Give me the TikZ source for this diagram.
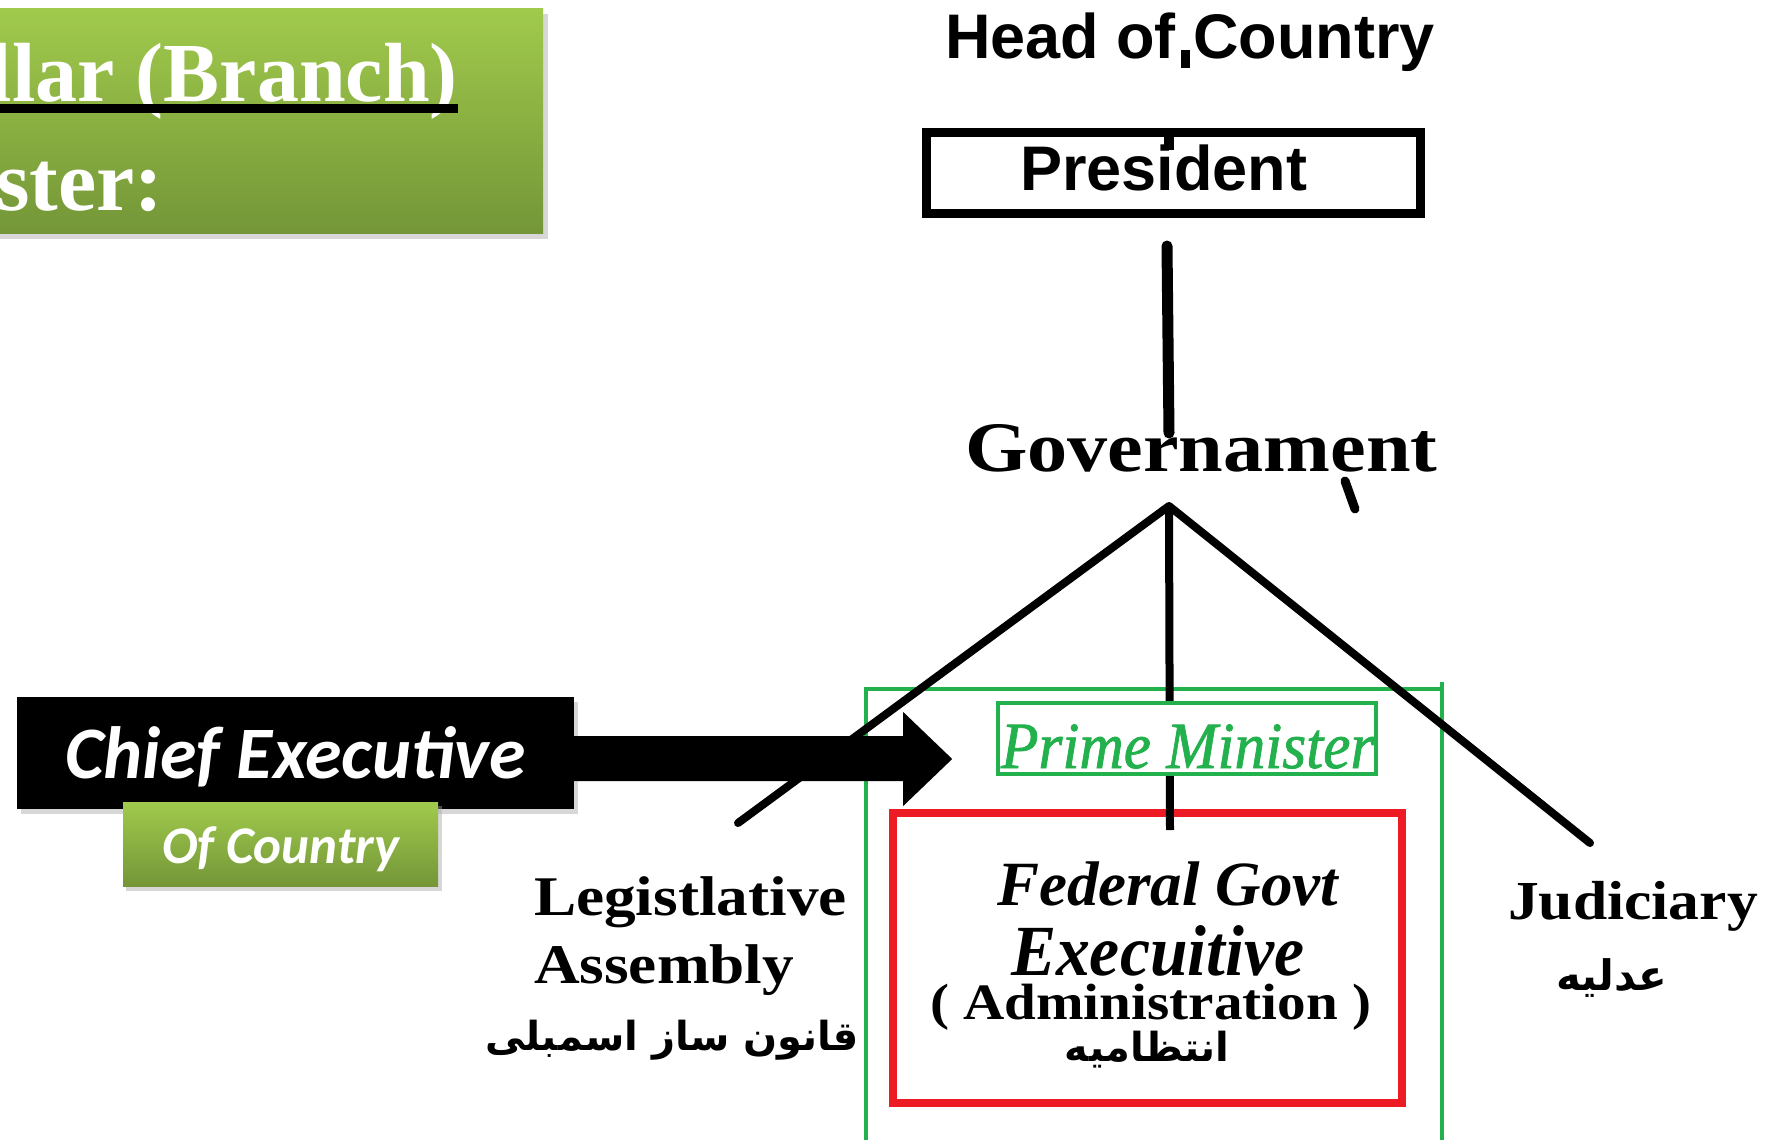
\documentclass[tikz,border=0pt]{standalone}
\usepackage{fontspec}
\usepackage{graphicx}
\setmainfont{Liberation Serif}
\newfontfamily\arialf{Liberation Sans}
\newfontfamily\calib{Carlito}
\newfontfamily\pmfont[FakeBold=1.2]{Liberation Serif Italic}
\newfontfamily\arabicfont[Script=Arabic]{DejaVu Sans}
\TeXXeTstate=1
\definecolor{gtop}{RGB}{160,202,76}
\definecolor{gbot}{RGB}{116,150,56}
\definecolor{pmgreen}{RGB}{34,177,76}
\definecolor{exred}{RGB}{237,28,36}
\newcommand{\setfs}[1]{\fontsize{#1}{#1}\selectfont}
\begin{document}
\begin{tikzpicture}[x=1pt,y=-1pt,
  txt/.style={inner sep=0pt,outer sep=0pt,anchor=base west},
  ctr/.style={inner sep=0pt,outer sep=0pt,anchor=center},
  legline/.style={line width=8pt,line join=round,line cap=round},
  stemline/.style={line width=11pt,line cap=round},
  softshadow/.style={fill=black!35,opacity=0.45},
  gshade/.style={top color=gtop,bottom color=gbot},
  frameline/.style={draw=pmgreen,line width=3.5pt},
]
\useasboundingbox (0,0) rectangle (1781,1140);
\begin{scope}
\clip (0,0) rectangle (1781,1140);
% ---- banner
\fill[softshadow] (0,14) rectangle (548,239);
\shade[gshade] (0,9) rectangle (543,233);
\node[txt,text=white,font=\bfseries\setfs{84}] (branch) at (-11,101) {llar (Branch)};
\fill[black] (0,104) rectangle (458,113);
\node[txt,text=white,font=\bfseries\setfs{86}] (minister) at (-4,210) {ster:};
% ---- outer green frame
\draw[frameline] (866,1150) -- (866,689) -- (1442,689);
\draw[frameline] (1442,682) -- (1442,1150);
% ---- red executive box
\node[draw=exred,line width=8pt,minimum width=509pt,minimum height=290pt,inner sep=0pt] (execbox) at (1147.5,958) {};
\node[txt,font=\bfseries\itshape\setfs{63}] (fed) at (997,905) {Federal Govt};
\node[txt,font=\bfseries\itshape\setfs{72}] (exe) at (1011,975) {\scalebox{0.94}[1]{Execuitive}};
\node[txt,font=\bfseries\setfs{51}] (adm) at (930,1019) {\scalebox{1.12}[1]{( Administration )}};
\node[ctr,font=\arabicfont\bfseries\setfs{40}] (intz) at (1147,1050) {\beginR انتظامیه\endR};
% ---- tree lines
\coordinate (apex) at (1169,506);
\coordinate (legL) at (738,823);
\coordinate (legR) at (1590,843);
\coordinate (legM) at (1170,830);
\draw[legline] (legL) -- (apex) -- (legR);
\draw[line width=8pt] (apex) -- (legM);
\coordinate (stemtop) at (1167,246);
\coordinate (stembot) at (1169,433);
\draw[stemline] (stemtop) -- (stembot);
% ---- prime minister
\node[draw=pmgreen,line width=4pt,fill=white,minimum width=378pt,minimum height=71pt,inner sep=0pt] (pmbox) at (1187,738.5) {};
\node[txt,text=pmgreen,font=\pmfont\setfs{66}] (pm) at (1001,768) {\scalebox{0.93}[1]{Prime Minister}};
% ---- chief executive
\fill[softshadow] (21,702) rectangle (578,814);
\node[fill=black,minimum width=557pt,minimum height=112pt,inner sep=0pt] (chief) at (295.5,753) {};
\node[txt,text=white,font=\calib\bfseries\itshape\setfs{74}] (chieft) at (65,778) {Chief Executive};
\fill[black] (chief.east) ++(0,-17) -- ++(329,0) -- ++(0,-24) -- ++(49,47) -- ++(-49,47) -- ++(0,-25) -- ++(-329,0) -- cycle;
\fill[softshadow] (126,806) rectangle (442,891);
\node[gshade,minimum width=315pt,minimum height=84pt,inner sep=0pt] (ofbox) at (280.5,844) {};
\node[txt,text=white,font=\calib\bfseries\itshape\setfs{53}] (oft) at (162,863) {Of Country};
% ---- head / president
\node[txt,font=\arialf\bfseries\setfs{63}] (head) at (945,59) {Head of Country};
\fill (1181,50) rectangle (1190,68);
\node[draw,line width=9pt,minimum width=494pt,minimum height=81pt,inner sep=0pt] (pres) at (1173.5,173) {};
\node[txt,font=\arialf\bfseries\setfs{63}] (prest) at (1020,190) {President};
\fill (1164,129) rectangle (1174,150);
% ---- government
\node[txt,font=\bfseries\setfs{71}] (gov) at (965,471) {\scalebox{1.13}[1]{Governament}};
\draw[line width=9pt,line cap=round] (1345,481) -- (1355,509);
% ---- branch labels
\node[txt,font=\bfseries\setfs{56}] (legis) at (534,915) {\scalebox{1.13}[1]{Legistlative}};
\node[txt,font=\bfseries\setfs{56}] (assem) at (534,983) {\scalebox{1.13}[1]{Assembly}};
\node[ctr,font=\arabicfont\bfseries\setfs{40}] (qanun) at (672,1040) {\beginR قانون ساز اسمبلی\endR};
\node[txt,font=\bfseries\setfs{55}] (judi) at (1508,919) {\scalebox{1.12}[1]{Judiciary}};
\node[ctr,font=\arabicfont\bfseries\setfs{42}] (adliya) at (1612,978) {\beginR عدلیه\endR};
\end{scope}
\end{tikzpicture}
\end{document}
